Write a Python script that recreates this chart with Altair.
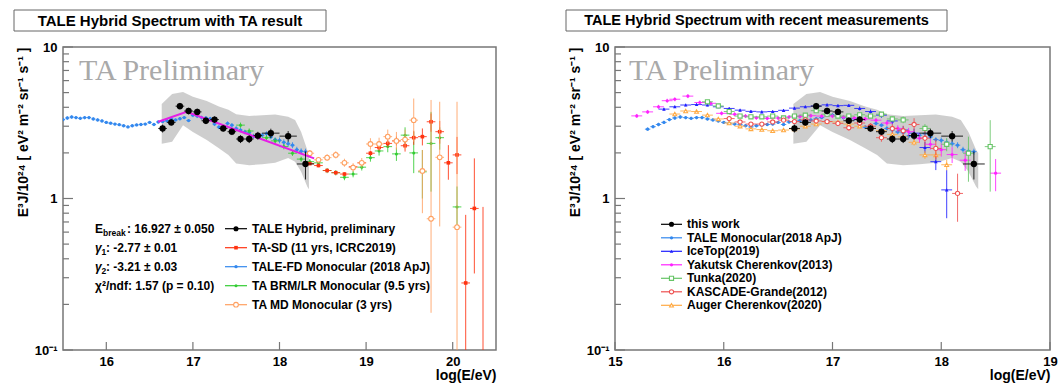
import altair as alt
import pandas as pd

FONT = "Liberation Sans"
SERIF = "Liberation Serif"
FRAME = "#777777"

# ---------------- TALE hybrid ("this work") ----------------
hyb_x = [16.65, 16.75, 16.85, 16.95, 17.05, 17.15, 17.25, 17.35, 17.45, 17.55, 17.65, 17.75, 17.90, 18.10, 18.30]
hyb_y = [2.90, 3.18, 4.07, 3.78, 3.73, 3.26, 3.32, 2.90, 2.76, 2.47, 2.47, 2.60, 2.70, 2.58, 1.69]
hyb_e = [0.06, 0.05, 0.05, 0.05, 0.05, 0.05, 0.05, 0.05, 0.05, 0.06, 0.06, 0.06, 0.07, 0.08, 0.21]
hyb_dx = [0.05, 0.05, 0.05, 0.05, 0.05, 0.05, 0.05, 0.05, 0.05, 0.05, 0.05, 0.05, 0.10, 0.10, 0.10]

# ---------------- TALE-FD monocular (2018 ApJ) ----------------
mono_x = [15.30, 15.35, 15.40, 15.45, 15.50, 15.55, 15.60, 15.65, 15.70, 15.75, 15.80, 15.85, 15.90, 15.95,
          16.00, 16.05, 16.10, 16.15, 16.20, 16.25, 16.30, 16.35, 16.40, 16.45, 16.50, 16.55, 16.60, 16.65,
          16.70, 16.75, 16.80, 16.85, 16.90, 16.95, 17.00, 17.05, 17.10, 17.15, 17.20, 17.25, 17.30, 17.35,
          17.40, 17.45, 17.50, 17.55, 17.60, 17.65, 17.70, 17.75, 17.80, 17.85, 17.90, 17.95, 18.00, 18.05,
          18.10, 18.15, 18.20, 18.25, 18.30]
mono_y = [2.87, 2.98, 3.08, 3.18, 3.32, 3.40, 3.45, 3.42, 3.38, 3.42, 3.42, 3.35, 3.30, 3.25,
          3.18, 3.14, 3.10, 3.07, 3.02, 2.97, 3.02, 3.06, 3.08, 3.10, 3.18, 3.08, 3.20, 3.22,
          3.26, 3.35, 3.30, 3.36, 3.42, 3.27, 3.55, 3.50, 3.42, 3.40, 3.36, 3.10, 2.96, 2.94,
          3.13, 3.05, 2.90, 2.83, 2.75, 2.72, 2.58, 2.62, 2.62, 2.68, 2.55, 2.45, 2.42, 2.35,
          2.30, 2.25, 2.10, 2.05, 2.04]
mono_e = [0.025, 0.025, 0.025, 0.025, 0.025, 0.025, 0.025, 0.025, 0.025, 0.025, 0.025, 0.025, 0.025, 0.025,
          0.02, 0.02, 0.02, 0.02, 0.02, 0.02, 0.02, 0.02, 0.02, 0.02, 0.02, 0.02, 0.02, 0.02,
          0.02, 0.02, 0.02, 0.02, 0.02, 0.02, 0.03, 0.03, 0.03, 0.03, 0.03, 0.03, 0.03, 0.03,
          0.03, 0.03, 0.035, 0.035, 0.035, 0.035, 0.035, 0.035, 0.035, 0.035, 0.035, 0.035, 0.045, 0.045,
          0.045, 0.045, 0.045, 0.045, 0.045]
mono_halfbin = 0.025

# ---------------- TA-SD (11 yrs, ICRC2019) ----------------
sd_x = [18.35, 18.45, 18.55, 18.65, 18.75, 18.85, 18.95, 19.05, 19.15, 19.25, 19.35, 19.45, 19.55, 19.65,
        19.75, 19.85, 19.95, 20.05, 20.15, 20.25, 20.35]
sd_y = [1.70, 1.65, 1.53, 1.48, 1.45, 1.62, 1.72, 1.99, 2.17, 2.31, 2.40, 2.23, 2.52, 2.56,
        3.21, 2.76, 1.72, 1.94, 0.277, 0.86, 0.05]
sd_lo = [1.66, 1.61, 1.49, 1.44, 1.41, 1.57, 1.66, 1.91, 2.07, 2.18, 2.24, 2.04, 2.26, 2.24,
         2.76, 2.30, 1.33, 1.45, 0.05, 0.32, 0.05]
sd_hi = [1.74, 1.69, 1.57, 1.52, 1.49, 1.67, 1.78, 2.07, 2.27, 2.44, 2.56, 2.42, 2.80, 2.90,
         3.64, 3.25, 2.25, 2.55, 0.78, 1.84, 0.88]

# ---------------- TA BRM/LR monocular (9.5 yrs) ----------------
br_x = [17.55, 17.65, 17.75, 17.85, 17.95, 18.05, 18.15, 18.25, 18.35, 18.45, 18.55, 18.65, 18.75,
        18.85, 18.95, 19.05, 19.15, 19.25, 19.35, 19.45, 19.55, 19.65, 19.75, 19.85, 20.05]
br_y = [3.05, 2.79, 2.60, 2.52, 2.40, 2.20, 1.99, 1.82, 1.75, 1.72, 1.53, 1.48, 1.38,
        1.45, 1.61, 1.86, 2.06, 2.20, 1.97, 2.62, 2.00, 1.50, 2.31, 2.52, 0.88]
br_lo = [2.93, 2.68, 2.50, 2.42, 2.30, 2.11, 1.91, 1.75, 1.68, 1.65, 1.47, 1.42, 1.32,
         1.38, 1.53, 1.75, 1.92, 2.02, 1.77, 2.30, 1.47, 1.00, 1.11, 2.10, 0.65]
br_hi = [3.17, 2.90, 2.70, 2.62, 2.50, 2.29, 2.07, 1.89, 1.82, 1.79, 1.59, 1.54, 1.44,
         1.52, 1.69, 1.97, 2.20, 2.38, 2.17, 2.95, 2.76, 2.09, 3.73, 2.95, 1.20]

# ---------------- TA MD monocular (3 yrs) ----------------
md_x = [18.35, 18.45, 18.55, 18.65, 18.75, 18.85, 18.95, 19.05, 19.15, 19.25, 19.35, 19.45, 19.55,
        19.65, 19.75, 19.85, 20.05]
md_y = [1.99, 1.80, 1.86, 1.94, 1.72, 1.60, 1.72, 2.29, 2.29, 2.56, 2.40, 2.45, 3.29,
        1.52, 0.735, 1.87, 0.647]
md_lo = [1.90, 1.72, 1.77, 1.84, 1.62, 1.50, 1.60, 2.10, 2.08, 2.30, 2.10, 2.10, 2.37,
         0.80, 0.176, 0.654, 0.05]
md_hi = [2.09, 1.88, 1.96, 2.05, 1.83, 1.71, 1.85, 2.50, 2.52, 2.85, 2.75, 2.85, 4.57,
         2.09, 4.47, 4.35, 4.35]

# ---------------- broken power-law fit ----------------
fit_x = [16.60, 16.927, 18.40]
fit_y = [3.21, 3.74, 1.84]

# ---------------- systematic band ----------------
band_x = [16.64, 16.76, 16.886, 17.00, 17.16, 17.30, 17.41, 17.50, 17.65, 17.80, 17.95, 18.10, 18.18, 18.25, 18.32, 18.34]
band_lo = [2.30, 2.37, 3.05, 2.75, 2.43, 2.15, 1.94, 1.70, 1.66, 1.68, 1.72, 1.85, 1.75, 1.50, 1.20, 1.15]
band_hi = [4.20, 4.90, 5.05, 4.70, 4.40, 4.05, 3.85, 3.60, 3.50, 3.55, 3.58, 3.46, 3.30, 2.75, 2.10, 2.00]

# ---------------- IceTop (2019) ----------------
ice_x = [15.45, 15.55, 15.65, 15.75, 15.85, 15.95, 16.05, 16.15, 16.25, 16.35, 16.45, 16.55, 16.65, 16.75,
         16.85, 16.95, 17.05, 17.15, 17.25, 17.35, 17.45, 17.55, 17.65, 17.75, 17.85, 17.95, 18.05]
ice_y = [3.89, 4.03, 4.14, 4.17, 4.14, 4.03, 3.93, 3.83, 3.76, 3.73, 3.75, 3.82, 3.95, 4.03,
         4.08, 4.15, 4.10, 4.12, 3.93, 3.75, 3.55, 3.25, 2.83, 2.70, 2.17, 1.75, 1.14]
ice_e = [0.02, 0.02, 0.02, 0.02, 0.02, 0.02, 0.02, 0.02, 0.02, 0.02, 0.02, 0.02, 0.02, 0.02,
         0.02, 0.02, 0.02, 0.02, 0.03, 0.03, 0.04, 0.05, 0.06, 0.07, 0.09, 0.12, 0.35]

# ---------------- Yakutsk Cherenkov (2013) ----------------
yak_x = [15.20, 15.30, 15.40, 15.48, 15.55, 15.67, 15.78, 15.88, 15.98, 16.10, 16.20, 16.30, 16.40, 16.50,
         16.60, 16.70, 16.80, 16.90, 17.00, 17.10, 17.20, 17.30, 17.40, 17.50, 17.60, 17.70, 17.80, 17.90,
         18.00, 18.10, 18.22, 18.50]
yak_y = [3.51, 3.73, 4.03, 4.42, 4.52, 4.74, 4.30, 4.25, 3.65, 3.60, 3.50, 3.41, 3.38, 3.40,
         3.45, 3.48, 3.52, 3.50, 3.50, 3.45, 3.40, 3.35, 3.29, 3.15, 2.90, 2.76, 2.50, 2.28,
         2.10, 1.95, 1.79, 1.47]
yak_e = [0.03, 0.03, 0.03, 0.03, 0.03, 0.03, 0.03, 0.03, 0.03, 0.03, 0.03, 0.03, 0.03, 0.03,
         0.03, 0.03, 0.03, 0.03, 0.03, 0.03, 0.03, 0.03, 0.03, 0.04, 0.05, 0.06, 0.07, 0.08,
         0.10, 0.12, 0.15, 0.24]

# ---------------- Tunka (2020) ----------------
tun_x = [15.85, 15.95, 16.05, 16.15, 16.25, 16.35, 16.45, 16.55, 16.65, 16.75, 16.85, 16.95, 17.05, 17.15,
         17.25, 17.35, 17.45, 17.55, 17.65, 17.85, 18.05, 18.25, 18.45]
tun_y = [4.35, 4.08, 3.75, 3.50, 3.46, 3.46, 3.50, 3.40, 3.50, 3.55, 3.80, 3.60, 3.50, 3.50,
         3.57, 3.50, 3.60, 3.35, 3.30, 2.90, 2.28, 1.99, 2.20]
tun_lo = [4.26, 4.00, 3.68, 3.43, 3.39, 3.39, 3.43, 3.33, 3.43, 3.48, 3.72, 3.53, 3.43, 3.43,
          3.50, 3.40, 3.49, 3.22, 3.14, 2.70, 2.05, 1.29, 1.11]
tun_hi = [4.44, 4.16, 3.83, 3.57, 3.53, 3.53, 3.57, 3.47, 3.57, 3.62, 3.88, 3.67, 3.57, 3.57,
          3.64, 3.60, 3.71, 3.48, 3.47, 3.10, 2.51, 2.56, 3.29]

# ---------------- KASCADE-Grande (2012) ----------------
kg_x = [16.05, 16.15, 16.25, 16.35, 16.45, 16.55, 16.65, 16.75, 16.85, 16.95, 17.05, 17.15, 17.25, 17.35,
        17.45, 17.55, 17.65, 17.75, 17.85, 17.95, 18.15]
kg_y = [3.37, 3.20, 3.10, 3.10, 3.20, 3.29, 3.22, 3.30, 3.25, 3.22, 3.13, 2.93, 3.15, 3.00,
        2.52, 2.90, 2.80, 3.08, 2.50, 2.14, 1.08]
kg_e = [0.03, 0.03, 0.03, 0.03, 0.03, 0.03, 0.03, 0.03, 0.03, 0.03, 0.04, 0.04, 0.04, 0.05,
        0.06, 0.07, 0.08, 0.10, 0.12, 0.15, 0.35]

# ---------------- Auger Cherenkov (2020) ----------------
au_x = [15.55, 15.65, 15.75, 15.85, 15.95, 16.05, 16.15, 16.25, 16.35, 16.45, 16.55, 16.65, 16.75,
        16.85, 16.95, 17.05, 17.15, 17.25, 17.35, 17.45, 17.55, 17.65, 17.75, 17.85, 17.95, 18.05]
au_y = [3.61, 3.78, 3.75, 3.55, 3.35, 3.15, 3.00, 2.88, 2.85, 2.80, 2.83, 2.88, 3.00,
        3.10, 3.22, 3.20, 3.10, 3.00, 2.90, 2.80, 2.65, 2.55, 2.35, 1.94, 1.94, 1.67]
au_e = [0.02, 0.02, 0.02, 0.02, 0.02, 0.02, 0.02, 0.02, 0.02, 0.02, 0.02, 0.02, 0.02,
        0.02, 0.02, 0.02, 0.02, 0.02, 0.02, 0.03, 0.03, 0.04, 0.05, 0.06, 0.07, 0.08]
halfbin = 0.05

# ---------------- labels ----------------
Y_TITLE = "E³J/10²⁴ [ eV² m⁻² sr⁻¹ s⁻¹ ]"
Y_MAJOR = [0.1, 1, 10]
Y_MINOR = [0.2, 0.3, 0.4, 0.5, 0.6, 0.7, 0.8, 0.9, 2, 3, 4, 5, 6, 7, 8, 9]
L_TICKS = [16, 17, 18, 19, 20]
R_TICKS = [15, 16, 17, 18, 19]

L_names = ["TALE Hybrid, preliminary", "TA-SD (11 yrs, ICRC2019)", "TALE-FD Monocular (2018 ApJ)",
           "TA BRM/LR Monocular (9.5 yrs)", "TA MD Monocular (3 yrs)"]
R_names = ["this work", "TALE Monocular(2018 ApJ)", "IceTop(2019)", "Yakutsk Cherenkov(2013)",
           "Tunka(2020)", "KASCADE-Grande(2012)", "Auger Cherenkov(2020)"]

# styles: color, shape, size, open
STY = {
    "hyb": ("#000000", "circle", 40, False),
    "sd": ("#ff3311", "square", 13, False),
    "mono": ("#3388ee", "circle", 11, False),
    "br": ("#33cc33", "circle", 9, False),
    "md": ("#ffa060", "circle", 22, True),
    "ice": ("#1f1fff", "triangle-up", 13, False),
    "yak": ("#ff22ff", "circle", 10, False),
    "tun": ("#66c466", "square", 17, True),
    "kg": ("#ee5050", "circle", 18, True),
    "au": ("#ffaa44", "triangle-up", 15, True),
}


def rel(y, e):
    return [v * (1 - f) for v, f in zip(y, e)], [v * (1 + f) for v, f in zip(y, e)]


def make_axes(ticks, W):
    XA = alt.Axis(values=ticks, format="d", title="log(E/eV)", ticks=False, domain=False, grid=False,
                  labelFont=FONT, labelFontSize=13, labelFontWeight="bold", labelColor="black",
                  labelPadding=5, labelFlush=False, labelOverlap=False,
                  titleFont=FONT, titleFontSize=14, titleFontWeight="bold", titleColor="black",
                  titleAnchor="end", titleAlign="right", titleX=W, titleY=25, titleBaseline="middle")
    YA = alt.Axis(values=Y_MAJOR, ticks=False, domain=False, grid=False,
                  labelExpr="datum.value >= 5 ? '10' : (datum.value >= 0.5 ? '1' : '10⁻¹')",
                  labelFont=FONT, labelFontSize=13, labelFontWeight="bold", labelColor="black",
                  labelPadding=6, labelFlush=False, labelOverlap=False,
                  title=Y_TITLE, titleFont=FONT, titleFontSize=14, titleFontWeight="bold", titleColor="black",
                  titleAnchor="end", titleAngle=270, titleAlign="right", titleBaseline="middle",
                  titleX=-40, titleY=0)
    return XA, YA


def series(x, y, lo, hi, dx, key, xs, ys, XA, YA):
    color, shape, size, open_m = STY[key]
    df = pd.DataFrame({"x": x, "y": y, "lo": lo, "hi": hi,
                       "xl": [a - d for a, d in zip(x, dx)], "xh": [a + d for a, d in zip(x, dx)]})
    base = alt.Chart(df)
    vbar = base.mark_rule(color=color, strokeWidth=1, opacity=0.85, clip=True).encode(
        x=alt.X("x:Q", scale=xs, axis=XA), y=alt.Y("lo:Q", scale=ys, axis=YA), y2="hi:Q")
    hbar = base.mark_rule(color=color, strokeWidth=1, opacity=0.85, clip=True).encode(
        x=alt.X("xl:Q", scale=xs, axis=XA), x2="xh:Q", y=alt.Y("y:Q", scale=ys, axis=YA))
    if open_m:
        pm = base.mark_point(shape=shape, size=size, filled=True, fill="white", stroke=color,
                             strokeWidth=1.1, opacity=1, clip=True)
    else:
        pm = base.mark_point(shape=shape, size=size, filled=True, color=color, opacity=1, clip=True)
    pts = pm.encode(x=alt.X("x:Q", scale=xs, axis=XA), y=alt.Y("y:Q", scale=ys, axis=YA))
    return [vbar, hbar, pts]


def text(t, x, y, size, weight="bold", font=FONT, color="black", align="left", baseline="middle", style="normal"):
    return alt.Chart(pd.DataFrame({"t": [t]})).mark_text(
        align=align, baseline=baseline, font=font, fontSize=size, fontWeight=weight,
        color=color, fontStyle=style).encode(x=alt.value(x), y=alt.value(y), text="t:N")


def frame_ticks(ticks, xs, ys, XA, YA, H):
    out = []
    out.append(alt.Chart(pd.DataFrame({"v": Y_MAJOR})).mark_rule(color=FRAME, strokeWidth=1.2).encode(
        y=alt.Y("v:Q", scale=ys, axis=YA), x=alt.value(0), x2=alt.value(10)))
    out.append(alt.Chart(pd.DataFrame({"v": Y_MINOR})).mark_rule(color=FRAME, strokeWidth=1.2).encode(
        y=alt.Y("v:Q", scale=ys, axis=YA), x=alt.value(0), x2=alt.value(6)))
    out.append(alt.Chart(pd.DataFrame({"v": ticks})).mark_rule(color=FRAME, strokeWidth=1.2).encode(
        x=alt.X("v:Q", scale=xs, axis=XA), y=alt.value(H), y2=alt.value(H - 8)))
    return out


def band_layer(xs, ys, XA, YA):
    df = pd.DataFrame({"bx": band_x, "blo": band_lo, "bhi": band_hi})
    return alt.Chart(df).mark_area(color="#c9c9c9", opacity=0.9, clip=True).encode(
        x=alt.X("bx:Q", scale=xs, axis=XA), y=alt.Y("blo:Q", scale=ys, axis=YA), y2="bhi:Q")


def title_box(t, x0, x1, cx, size):
    box = alt.Chart(pd.DataFrame({"a": [0]})).mark_rect(fill="white", stroke="#666666", strokeWidth=1).encode(
        x=alt.value(x0), x2=alt.value(x1), y=alt.value(-37), y2=alt.value(-16))
    return [box, text(t, cx, -26.5, size, align="center")]


def legend_rows(names, keys, x0, x1, xt, y0, dy, size):
    out = []
    for i, (n, k) in enumerate(zip(names, keys)):
        color, shape, sz, open_m = STY[k]
        yy = y0 + i * dy
        d = alt.Chart(pd.DataFrame({"a": [0]}))
        out.append(d.mark_rule(color=color, strokeWidth=1.2).encode(
            x=alt.value(x0), x2=alt.value(x1), y=alt.value(yy)))
        if open_m:
            pm = d.mark_point(shape=shape, size=sz, filled=True, fill="white", stroke=color, strokeWidth=1.1, opacity=1)
        else:
            pm = d.mark_point(shape=shape, size=min(sz, 26), filled=True, color=color, opacity=1)
        out.append(pm.encode(x=alt.value((x0 + x1) / 2), y=alt.value(yy)))
        out.append(text(n, xt, yy, size))
    return out


# ======================= LEFT PANEL =======================
WL, H = 433, 303
xsL = alt.Scale(domain=[15.5, 20.5], nice=False, zero=False)
ysL = alt.Scale(type="log", domain=[0.1, 10], nice=False)
XAL, YAL = make_axes(L_TICKS, WL)

hyb_lo, hyb_hi = rel(hyb_y, hyb_e)
mono_lo, mono_hi = rel(mono_y, mono_e)
mono_dx = [mono_halfbin for _ in mono_x]
hb = [halfbin for _ in range(40)]

left_layers = [band_layer(xsL, ysL, XAL, YAL)]
left_layers += series(mono_x, mono_y, mono_lo, mono_hi, mono_dx, "mono", xsL, ysL, XAL, YAL)
left_layers += series(br_x, br_y, br_lo, br_hi, hb[:len(br_x)], "br", xsL, ysL, XAL, YAL)
left_layers += series(sd_x, sd_y, sd_lo, sd_hi, hb[:len(sd_x)], "sd", xsL, ysL, XAL, YAL)
left_layers += series(md_x, md_y, md_lo, md_hi, hb[:len(md_x)], "md", xsL, ysL, XAL, YAL)
left_layers.append(alt.Chart(pd.DataFrame({"fx": fit_x, "fy": fit_y})).mark_line(
    color="#e61ee6", strokeWidth=2, clip=True).encode(
    x=alt.X("fx:Q", scale=xsL, axis=XAL), y=alt.Y("fy:Q", scale=ysL, axis=YAL)))
left_layers += series(hyb_x, hyb_y, hyb_lo, hyb_hi, hyb_dx, "hyb", xsL, ysL, XAL, YAL)
left_layers += frame_ticks(L_TICKS, xsL, ysL, XAL, YAL, H)
left_layers.append(text("TA Preliminary", 16, 33, 30, weight="normal", font=SERIF, color="#a9a9a9",
                        baseline="alphabetic"))
left_layers += title_box("TALE Hybrid Spectrum with TA result", -49, 263, 107, 15)
# fit results
left_layers.append(text("E", 32, 181.7, 12))
left_layers.append(text("break", 40, 185.5, 8.5))
left_layers.append(text(": 16.927 ± 0.050", 64, 181.7, 12))
left_layers.append(text("γ", 32, 200.7, 12, style="italic"))
left_layers.append(text("1", 38.5, 204.5, 8.5))
left_layers.append(text(": -2.77 ± 0.01", 43, 200.7, 12))
left_layers.append(text("γ", 32, 220, 12, style="italic"))
left_layers.append(text("2", 38.5, 223.8, 8.5))
left_layers.append(text(": -3.21 ± 0.03", 43, 220, 12))
left_layers.append(text("χ²/ndf: 1.57 (p = 0.10)", 32, 238.5, 12))
left_layers += legend_rows(L_names, ["hyb", "sd", "mono", "br", "md"], 162, 184, 189, 181.7, 19.0, 12)

left = alt.layer(*left_layers).properties(width=WL, height=H)

# ======================= RIGHT PANEL =======================
WR = 435
xsR = alt.Scale(domain=[15, 19], nice=False, zero=False)
ysR = alt.Scale(type="log", domain=[0.1, 10], nice=False)
XAR, YAR = make_axes(R_TICKS, WR)

ice_lo, ice_hi = rel(ice_y, ice_e)
yak_lo, yak_hi = rel(yak_y, yak_e)
kg_lo, kg_hi = rel(kg_y, kg_e)
au_lo, au_hi = rel(au_y, au_e)

right_layers = [band_layer(xsR, ysR, XAR, YAR)]
right_layers += series(mono_x, mono_y, mono_lo, mono_hi, mono_dx, "mono", xsR, ysR, XAR, YAR)
right_layers += series(ice_x, ice_y, ice_lo, ice_hi, hb[:len(ice_x)], "ice", xsR, ysR, XAR, YAR)
right_layers += series(yak_x, yak_y, yak_lo, yak_hi, hb[:len(yak_x)], "yak", xsR, ysR, XAR, YAR)
right_layers += series(au_x, au_y, au_lo, au_hi, hb[:len(au_x)], "au", xsR, ysR, XAR, YAR)
right_layers += series(tun_x, tun_y, tun_lo, tun_hi, hb[:len(tun_x)], "tun", xsR, ysR, XAR, YAR)
right_layers += series(kg_x, kg_y, kg_lo, kg_hi, hb[:len(kg_x)], "kg", xsR, ysR, XAR, YAR)
right_layers += series(hyb_x, hyb_y, hyb_lo, hyb_hi, hyb_dx, "hyb", xsR, ysR, XAR, YAR)
right_layers += frame_ticks(R_TICKS, xsR, ysR, XAR, YAR, H)
right_layers.append(text("TA Preliminary", 14, 33, 30, weight="normal", font=SERIF, color="#a9a9a9",
                         baseline="alphabetic"))
right_layers += title_box("TALE Hybrid Spectrum with recent measurements", -49, 332, 141.5, 14.5)
right_layers += legend_rows(R_names, ["hyb", "mono", "ice", "yak", "tun", "kg", "au"],
                            46, 67, 72, 177.3, 13.5, 12)

right = alt.layer(*right_layers).properties(width=WR, height=H)

chart = alt.hconcat(left, right, spacing=67).properties(
    padding={"left": 12, "top": 8, "right": 0, "bottom": 0}
).configure_view(stroke=FRAME, strokeWidth=1.5)

chart.save("out.html", embed_options={"renderer": "svg", "actions": False})
